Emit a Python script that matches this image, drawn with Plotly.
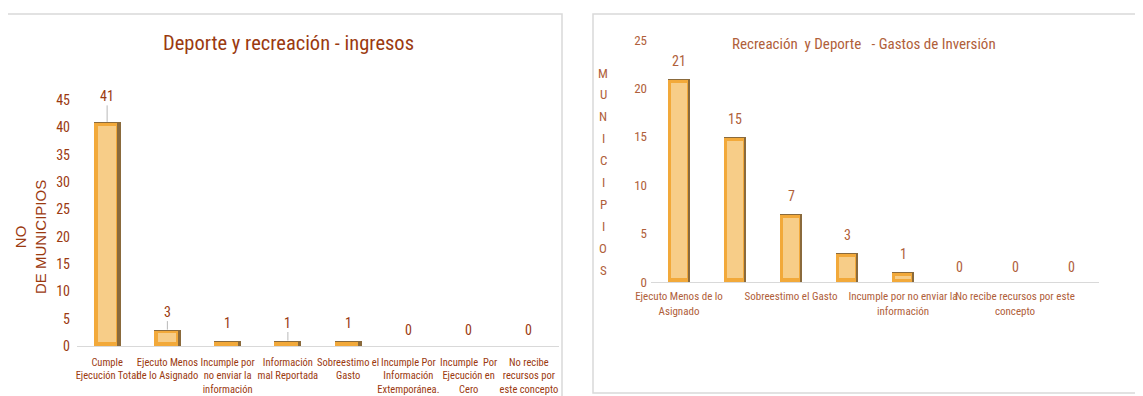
import plotly.graph_objects as go

# ---- data ----
left_categories = ["Cumple Ejecución Total", "Ejecuto Menos de lo Asignado",
                   "Incumple por no enviar la información", "Información mal Reportada",
                   "Sobreestimo el Gasto", "Incumple Por Información Extemporánea.",
                   "Incumple  Por Ejecución en Cero", "No recibe recursos por este concepto"]
left_values = [41, 3, 1, 1, 1, 0, 0, 0]
left_ticklabels = ["Cumple<br>Ejecución Total", "Ejecuto Menos<br>de lo Asignado",
                   "Incumple por<br>no enviar la<br>información", "Información<br>mal Reportada",
                   "Sobreestimo el<br>Gasto", "Incumple Por<br>Información<br>Extemporánea.",
                   "Incumple  Por<br>Ejecución en<br>Cero", "No recibe<br>recursos por<br>este concepto"]
left_leader = [True, True, False, True, False, False, False, False]

right_categories = ["Ejecuto Menos de lo Asignado", "Cumple Ejecución Total",
                    "Sobreestimo el Gasto", "Información mal Reportada",
                    "Incumple por no enviar la información", "Incumple Por Información Extemporánea.",
                    "No recibe recursos por este concepto", "Incumple Por Ejecución en Cero"]
right_values = [21, 15, 7, 3, 1, 0, 0, 0]
right_ticklabels = ["Ejecuto Menos de lo<br>Asignado", "", "Sobreestimo el Gasto", "",
                    "Incumple por no enviar la<br>información", "",
                    "No recibe recursos por este<br>concepto", ""]

left_title = "Deporte y recreación - ingresos"
right_title = "Recreación  y Deporte   - Gastos de Inversión"
right_axis_title = "MUNICIPIOS"

NARROW = "Liberation Sans Narrow, Roboto Condensed, DejaVu Sans Condensed, Arial Narrow, sans-serif"
DARK = "#9b3a10"
LIGHT = "#b0603a"

W, H = 1143, 396
OFF = 8  # page body margin


def px(x):
    return (x - OFF) / W


def py(y):
    return 1 - (y - OFF) / H


fig = go.Figure()


def add_bars(cats, vals, xa, ya, width, bevel):
    idx = list(range(len(cats)))
    fig.add_trace(go.Bar(x=idx, y=vals, width=width, marker=dict(color="#8a6a3c", line=dict(width=0)),
                         xaxis=xa, yaxis=ya, hoverinfo="skip", showlegend=False))
    fig.add_trace(go.Bar(x=[i - width * 0.06 for i in idx], y=[max(v - bevel * 0.3, 0) for v in vals],
                         width=width * 0.88, marker=dict(color="#f2a93a", line=dict(width=0)),
                         xaxis=xa, yaxis=ya, hoverinfo="skip", showlegend=False))
    fig.add_trace(go.Bar(x=idx, y=[max(v - 2 * bevel, 0) for v in vals],
                         base=[min(bevel, v / 2) for v in vals],
                         width=width * 0.66, marker=dict(color="#f7cd88", line=dict(width=0)),
                         xaxis=xa, yaxis=ya, hoverinfo="skip", showlegend=False))


add_bars(left_categories, left_values, "x", "y", 0.45, 0.7)
add_bars(right_categories, right_values, "x2", "y2", 0.41, 0.4)

annotations = []
for i, v in enumerate(left_values):
    if left_leader[i]:
        annotations.append(dict(x=i, y=v, xref="x", yref="y", text=str(v), showarrow=True,
                                arrowhead=0, arrowwidth=0.8, arrowcolor="#a6a6a6", ax=0,
                                ay=-26 if v > 10 else -18, standoff=0,
                                font=dict(family=NARROW, size=14, color=DARK)))
    else:
        annotations.append(dict(x=i, y=v, xref="x", yref="y", text=str(v), showarrow=False,
                                yanchor="middle", yshift=18 if v > 0 else 16,
                                font=dict(family=NARROW, size=14, color=DARK)))
for i, v in enumerate(right_values):
    annotations.append(dict(x=i, y=v, xref="x2", yref="y2", text=str(v), showarrow=False,
                            yanchor="middle", yshift=18 if v > 0 else 15,
                            font=dict(family=NARROW, size=14, color=LIGHT)))

annotations.append(dict(x=px(288), y=py(43), xref="paper", yref="paper", text=left_title,
                        xanchor="center", yanchor="middle",
                        showarrow=False, font=dict(family=NARROW, size=20.5, color=DARK)))
annotations.append(dict(x=px(864), y=py(44), xref="paper", yref="paper", text=right_title,
                        xanchor="center", yanchor="middle",
                        showarrow=False, font=dict(family=NARROW, size=15, color=LIGHT)))
annotations.append(dict(x=px(30), y=py(237), xref="paper", yref="paper", text="NO<br>DE MUNICIPIOS",
                        xanchor="center", yanchor="middle",
                        showarrow=False, textangle=-90,
                        font=dict(family="Liberation Sans, Arial, sans-serif", size=15, color=DARK)))
for k, ch in enumerate(right_axis_title):
    annotations.append(dict(x=px(603), y=py(73 + k * 21.9), xref="paper", yref="paper",
                            text=ch, showarrow=False, xanchor="center", yanchor="middle",
                            font=dict(family=NARROW, size=13, color=LIGHT)))

fig.update_layout(
    width=W, height=H, margin=dict(l=0, r=0, t=0, b=0, autoexpand=False),
    paper_bgcolor="white", plot_bgcolor="white",
    barmode="overlay", bargap=0, showlegend=False,
    annotations=annotations,
    xaxis=dict(domain=[px(77), px(559)], range=[-0.5, 7.5], tickvals=list(range(8)),
               ticktext=left_ticklabels, showgrid=False, zeroline=False, automargin=False,
               showline=True, linecolor="#d9d9d9", linewidth=1, ticks="", tickangle=0,
               ticklabelstandoff=6,
               tickfont=dict(family=NARROW, size=10.5, color=DARK), anchor="y"),
    yaxis=dict(domain=[py(346), py(100)], range=[0, 45], dtick=5, showgrid=False, zeroline=False,
               automargin=False, showline=False, ticks="", ticklabelstandoff=6,
               tickfont=dict(family=NARROW, size=14, color=DARK), anchor="x"),
    xaxis2=dict(domain=[px(651), px(1099)], range=[-0.5, 7.5], tickvals=list(range(8)),
                ticktext=right_ticklabels, showgrid=False, zeroline=False, automargin=False,
                showline=True, linecolor="#d9d9d9", linewidth=1, ticks="", tickangle=0,
                ticklabelstandoff=4,
                tickfont=dict(family=NARROW, size=11, color=LIGHT), anchor="y2"),
    yaxis2=dict(domain=[py(282), py(40)], range=[0, 25], dtick=5, showgrid=False, zeroline=False,
                automargin=False, showline=False, ticks="", ticklabelstandoff=3,
                tickfont=dict(family=NARROW, size=13, color=LIGHT), anchor="x2"),
    shapes=[
        dict(type="rect", xref="paper", yref="paper", x0=px(6), x1=px(562), y0=-0.1, y1=py(14),
             line=dict(color="#d9d9d9", width=1.5), fillcolor="rgba(0,0,0,0)", layer="below"),
        dict(type="rect", xref="paper", yref="paper", x0=px(593), x1=1.05, y0=py(393), y1=py(14),
             line=dict(color="#d9d9d9", width=1.5), fillcolor="rgba(0,0,0,0)", layer="below"),
    ],
)

fig.write_html("out.html")
